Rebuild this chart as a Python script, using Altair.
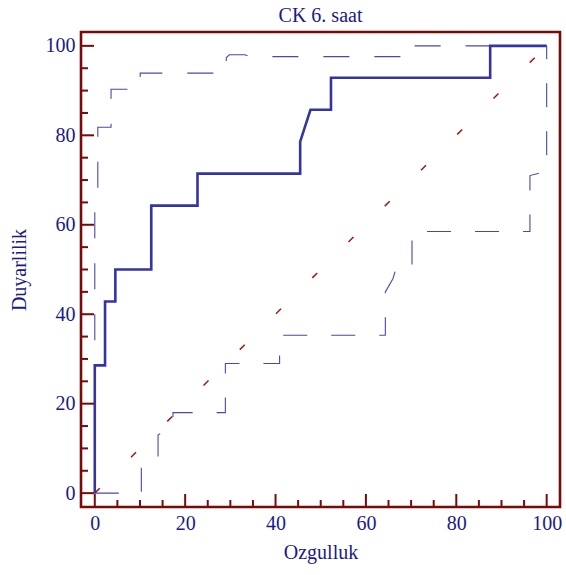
import altair as alt
import pandas as pd

# ROC curve (solid)
roc_x = [0, 0, 2.27, 2.27, 4.55, 4.55, 12.5, 12.5, 22.73, 22.73, 45.45, 45.45,
         47.73, 52.27, 52.27, 87.5, 87.5, 100]
roc_y = [0, 28.57, 28.57, 42.86, 42.86, 50, 50, 64.29, 64.29, 71.43, 71.43, 78.57,
         85.71, 85.71, 92.86, 92.86, 100, 100]

# Upper confidence bound (dashed)
upper_x = [0, 0, 0.67, 0.67, 3.6, 3.6, 10.05, 10.05, 29.1, 29.1, 29.8, 33.2, 34.3,
           69.5, 69.5, 100]
upper_y = [0, 64, 66, 81.8, 81.8, 90.3, 90.3, 93.9, 93.9, 97.4, 98.0, 98.0, 97.6,
           97.6, 100, 100]

# Lower confidence bound (dashed)
lower_x = [0, 10.3, 10.3, 14, 14, 17.3, 17.3, 28.9, 28.9, 40.9, 40.9, 64.3, 64.3,
           66, 66.5, 70.2, 70.2, 96.3, 96.3, 100, 100]
lower_y = [0, 0, 6, 7, 13, 15, 18, 18, 29, 29, 35.3, 35.3, 45, 48, 49.7, 49.7,
           58.5, 58.5, 71, 72, 100]

# Reference diagonal
diag_x = [0, 100]
diag_y = [0, 100]

# Axis ticks
major_ticks = [0, 20, 40, 60, 80, 100]
minor_ticks = [5, 10, 15, 25, 30, 35, 45, 50, 55, 65, 70, 75, 85, 90, 95]

W, H = 479, 475
FRAME = "#7a0a0a"
TEXT = "#1a1a8a"
LINE = "#3434a4"
FONT = "Liberation Serif"

def path_df(xs, ys):
    return pd.DataFrame({"x": xs, "y": ys, "i": list(range(len(xs)))})

xscale = alt.Scale(domain=[-3.05, 102.95], nice=False, zero=False)
yscale = alt.Scale(domain=[-3.1, 103.1], nice=False, zero=False)

xaxis = alt.Axis(values=major_ticks, title="Ozgulluk", grid=False, domain=False,
                 ticks=False, tickSize=0, labelPadding=6, labelFont=FONT,
                 labelFontSize=20, labelColor=TEXT, titleFont=FONT, titleFontSize=20,
                 titleFontWeight="normal", titleColor=TEXT, titleBaseline="alphabetic",
                 titleY=51, labelFlush=False)
yaxis = alt.Axis(values=major_ticks, title="Duyarlilik", grid=False, domain=False,
                 ticks=False, tickSize=0, labelPadding=6, labelFont=FONT,
                 labelFontSize=20, labelColor=TEXT, titleFont=FONT, titleFontSize=20,
                 titleFontWeight="normal", titleColor=TEXT, titleBaseline="alphabetic",
                 titleX=-56, titleAngle=270, labelFlush=False)

X = lambda: alt.X("x:Q", scale=xscale, axis=xaxis)
Y = lambda: alt.Y("y:Q", scale=yscale, axis=yaxis)

diag = alt.Chart(path_df(diag_x, diag_y)).mark_line(
    color="#a01818", strokeWidth=1.5, strokeDash=[7, 44], strokeCap="butt"
).encode(x=X(), y=Y(), order="i:Q")

upper = alt.Chart(path_df(upper_x, upper_y)).mark_line(
    color=LINE, strokeWidth=1.1, strokeDash=[26, 25], opacity=0.9
).encode(x=X(), y=Y(), order="i:Q")

lower = alt.Chart(path_df(lower_x, lower_y)).mark_line(
    color=LINE, strokeWidth=1.1, strokeDash=[24, 24], opacity=0.9
).encode(x=X(), y=Y(), order="i:Q")

roc = alt.Chart(path_df(roc_x, roc_y)).mark_line(
    color=LINE, strokeWidth=2.6
).encode(x=X(), y=Y(), order="i:Q")

major_df = pd.DataFrame({"x": major_ticks, "y": major_ticks})
minor_df = pd.DataFrame({"x": minor_ticks, "y": minor_ticks})

ytick_major = alt.Chart(major_df).mark_rule(color=FRAME, strokeWidth=2).encode(
    y=Y(), x=alt.value(0), x2=alt.value(13))
ytick_minor = alt.Chart(minor_df).mark_rule(color=FRAME, strokeWidth=2).encode(
    y=Y(), x=alt.value(0), x2=alt.value(7))
xtick_major = alt.Chart(major_df).mark_rule(color=FRAME, strokeWidth=2).encode(
    x=X(), y=alt.value(H), y2=alt.value(H - 13))
xtick_minor = alt.Chart(minor_df).mark_rule(color=FRAME, strokeWidth=2).encode(
    x=X(), y=alt.value(H), y2=alt.value(H - 7))

chart = alt.layer(
    diag, lower, upper, roc, ytick_major, ytick_minor, xtick_major, xtick_minor
).properties(
    width=W, height=H,
    title=alt.TitleParams("CK 6. saat", font=FONT, fontSize=20, fontWeight="normal",
                          color=TEXT, anchor="middle", offset=6),
    autosize=alt.AutoSizeParams(type="none"),
    padding={"left": 81, "top": 32, "right": 6, "bottom": 68},
).configure(
    background="white"
).configure_view(
    stroke=FRAME, strokeWidth=2.6
)

chart.save("out.html", embed_options={"renderer": "svg", "actions": False})
